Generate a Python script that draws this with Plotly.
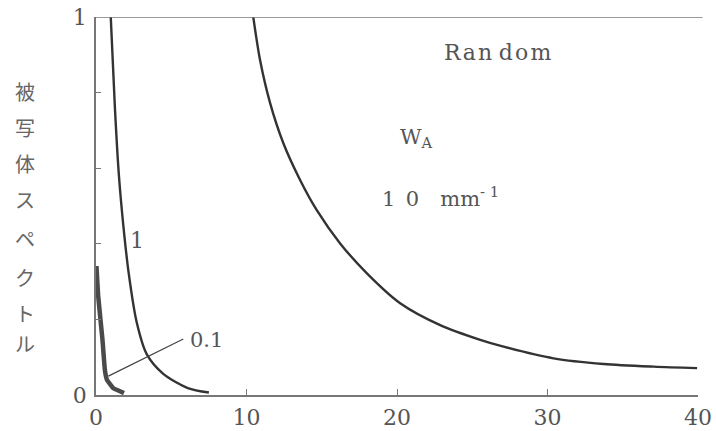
import plotly.graph_objects as go

# W_A = 10 mm^-1 curve
x_w10 = [10.45, 10.9, 11.57, 12.45, 13.56, 14.67, 16.22, 18.0, 20.21, 22.87, 25.53, 27.08, 30.4, 33.73, 37.06, 39.94]
y_w10 = [1.0, 0.886, 0.772, 0.666, 0.569, 0.489, 0.401, 0.322, 0.243, 0.185, 0.146, 0.128, 0.097, 0.082, 0.075, 0.071]

# W_A = 1 mm^-1 curve
x_w1 = [0.98, 1.26, 1.52, 1.82, 2.17, 2.7, 3.37, 4.47, 6.1, 7.5]
y_w1 = [1.0, 0.757, 0.582, 0.447, 0.323, 0.193, 0.108, 0.056, 0.0185, 0.0066]

# W_A = 0.1 mm^-1 curve
x_w01 = [0.03, 0.15, 0.43, 0.6, 0.73, 0.93, 1.15, 1.48, 1.86]
y_w01 = [0.341, 0.26, 0.146, 0.063, 0.04, 0.029, 0.018, 0.012, 0.005]

x_ticks = [0, 10, 20, 30, 40]
x_ticklabels = ["0", "10", "20", "30", "40"]
y_ticks = [0, 1]
y_ticklabels = ["0", "1"]
y_minor_step = 0.2

y_title_chars = ["被", "写", "体", "ス", "ペ", "ク", "ト", "ル"]

SERIF = "DejaVu Serif, Liberation Serif, serif"
CJK = "Noto Sans CJK JP"
TXT = "#555555"
LINE = "#333333"

fig = go.Figure()
fig.add_trace(go.Scatter(x=x_w10, y=y_w10, mode="lines",
                         line=dict(color=LINE, width=2.4, shape="spline", smoothing=0.8)))
fig.add_trace(go.Scatter(x=x_w1, y=y_w1, mode="lines",
                         line=dict(color=LINE, width=2.4, shape="spline", smoothing=0.8)))
fig.add_trace(go.Scatter(x=x_w01, y=y_w01, mode="lines",
                         line=dict(color="#4a4a4a", width=4.5, shape="spline", smoothing=0.5)))

# top line at y = 1
fig.add_shape(type="line", xref="paper", yref="y", x0=0, x1=1.0075, y0=1, y1=1,
              line=dict(color="#777777", width=1.5))
# leader line for 0.1 label
fig.add_shape(type="line", xref="x", yref="y", x0=5.8, y0=0.148, x1=0.82, y1=0.05,
              line=dict(color="#444444", width=1.2))

ann = []
ann.append(dict(x=2.73, y=0.408, xref="x", yref="y", text="1", showarrow=False,
                font=dict(family=SERIF, size=22, color=TXT)))
ann.append(dict(x=7.36, y=0.146, xref="x", yref="y", text="0.1", showarrow=False,
                font=dict(family=SERIF, size=21, color=TXT)))
ann.append(dict(x=26.73, y=0.905, xref="x", yref="y",
                text="R\u200aa\u200an\u2009\u200ad\u200ao\u200am", showarrow=False,
                font=dict(family=SERIF, size=22, color=TXT)))
ann.append(dict(x=20.05, y=0.68, xref="x", yref="y", xanchor="left",
                text="W<sub>A</sub>", showarrow=False,
                font=dict(family=SERIF, size=21, color=TXT)))
ann.append(dict(x=18.9, y=0.523, xref="x", yref="y", xanchor="left",
                text="1\u20020\u2003mm<sup>- 1</sup>", showarrow=False,
                font=dict(family=SERIF, size=21, color=TXT)))

char_y = [92, 128, 163, 200, 238, 277, 313, 343]
for ch, py in zip(y_title_chars, char_y):
    ann.append(dict(x=(25 - 96) / 601.6, y=(395 - py) / 378, xref="paper", yref="paper",
                    xanchor="center", yanchor="middle",
                    text=ch, showarrow=False,
                    font=dict(family=CJK, size=20, color="#666666")))

fig.update_layout(
    width=716, height=431,
    margin=dict(l=96, r=18.4, t=17, b=36),
    paper_bgcolor="white", plot_bgcolor="white",
    showlegend=False,
    annotations=ann,
    xaxis=dict(range=[0, 40], tickvals=x_ticks, ticktext=x_ticklabels,
               ticks="inside", ticklen=6, tickcolor="#777777", tickwidth=1.3,
               showline=True, linecolor="#777777", linewidth=1.5,
               showgrid=False, zeroline=False, automargin=False,
               ticklabelstandoff=2,
               tickfont=dict(family=SERIF, size=22, color=TXT)),
    yaxis=dict(range=[0, 1], tickvals=y_ticks, ticktext=y_ticklabels,
               ticks="inside", ticklen=5, tickcolor="#777777", tickwidth=1.3,
               showline=True, linecolor="#777777", linewidth=1.5,
               showgrid=False, zeroline=False, automargin=False,
               ticklabelstandoff=3,
               minor=dict(dtick=y_minor_step, ticks="inside", ticklen=5,
                          tickcolor="#777777", tickwidth=1.3, showgrid=False),
               tickfont=dict(family=SERIF, size=22, color=TXT)),
)

fig.write_html("out.html")
